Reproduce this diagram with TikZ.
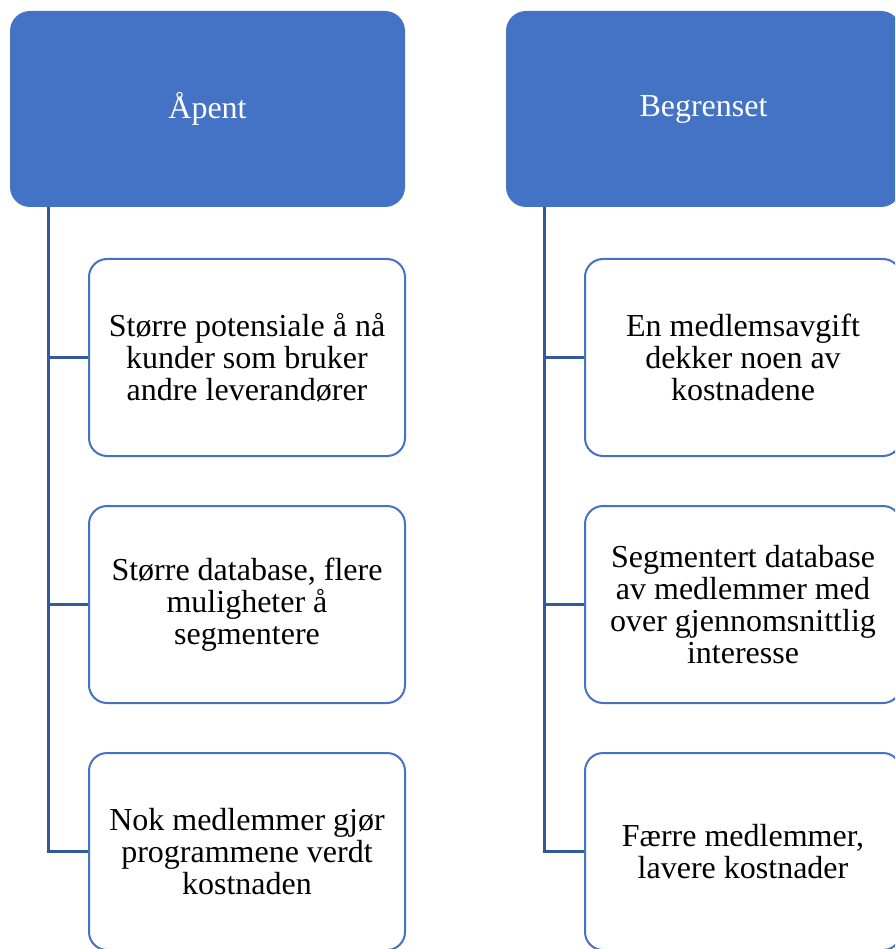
\documentclass[tikz,border=0pt]{standalone}
\usepackage{fontspec}
\setmainfont{Liberation Serif}
\usepackage{xcolor}
\definecolor{headblue}{RGB}{68,114,196}
\definecolor{linkblue}{RGB}{52,87,158}

\begin{document}
\begin{tikzpicture}[x=1pt, y=-1pt,
    header/.style={fill=headblue, rounded corners=20pt, minimum width=395pt,
      minimum height=196pt, text=white, font=\fontsize{32}{32}\selectfont},
    item/.style={draw=headblue, line width=2pt, fill=white, rounded corners=18pt,
      minimum width=316pt, minimum height=197pt, align=center,
      font=\fontsize{32}{32}\selectfont},
    link/.style={draw=linkblue, line width=3pt}]
  \useasboundingbox (0,0) rectangle (895,949);
  \clip (0,0) rectangle (895,949);

  % Left column
  \node[header] (open) at (207.5,109) {Åpent};
  \coordinate (openstem) at (48,207);
  \node[item] (open1) at (247,357.5)
    {Større potensiale å nå\\kunder som bruker\\andre leverandører};
  \node[item] (open2) at (247,604.5)
    {Større database, flere\\muligheter å\\segmentere};
  \node[item] (open3) at (247,851.5)
    {Nok medlemmer gjør\\programmene verdt\\kostnaden};
  \draw[link] (openstem) |- (open3.west);
  \draw[link] (open1.west) -- (open1.west -| openstem);
  \draw[link] (open2.west) -- (open2.west -| openstem);

  % Right column
  \node[header] (closed) at (703.5,109) {Begrenset};
  \coordinate (closedstem) at (544,207);
  \node[item] (closed1) at (743,357.5)
    {En medlemsavgift\\dekker noen av\\kostnadene};
  \node[item] (closed2) at (743,604.5)
    {Segmentert database\\av medlemmer med\\over gjennomsnittlig\\interesse};
  \node[item] (closed3) at (743,851.5)
    {Færre medlemmer,\\lavere kostnader};
  \draw[link] (closedstem) |- (closed3.west);
  \draw[link] (closed1.west) -- (closed1.west -| closedstem);
  \draw[link] (closed2.west) -- (closed2.west -| closedstem);
\end{tikzpicture}
\end{document}
